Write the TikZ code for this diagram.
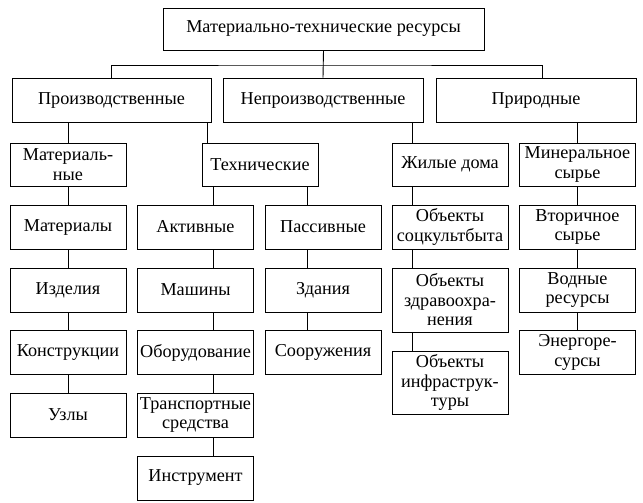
\documentclass[tikz,border=0pt]{standalone}
\usepackage{fontspec}
\setmainfont{Liberation Serif}
\usepackage{tikz}
\usepackage{xcolor}

\begin{document}
\begin{tikzpicture}[x=1pt,y=-1pt,line width=0.9pt,
  resbox/.style={draw,rectangle,align=center,inner sep=1pt,
    minimum width=116pt,minimum height=44pt,
    font=\fontsize{18.2}{19.5}\selectfont},
  widebox/.style={resbox,minimum width=200pt}]
\useasboundingbox (0,0) rectangle (643,503);
% top levels
\node [resbox,minimum width=321pt,minimum height=42pt] (res) at (323.5,29) {Материально-технические ресурсы};
\node [widebox,minimum width=199pt] (prod) at (111.5,100) {Производственные};
\node [widebox] (nonprod) at (323,100) {Непроизводственные};
\node [widebox] (nature) at (536,100) {Природные};
% third level
\node [resbox,minimum height=43pt] (mat) at (68,164.5) {Материаль-\\ные};
\node [resbox,minimum height=43pt] (tech) at (260,164.5) {Технические};
\node [resbox,minimum height=43pt] (houses) at (450,164.5) {Жилые дома};
\node [resbox,minimum height=43pt] (mineral) at (577.5,164.5) {Минеральное\\сырье};
% columns
\foreach \name/\x/\y/\txt in {materials/68/227/Материалы, items/68/290/Изделия,
    constr/68/352.5/Конструкции, units/68/415/Узлы,
    active/195.5/227/Активные, machines/195.5/290/Машины,
    equip/195.5/352.5/Оборудование, transp/195.5/415/{Транспортные\\средства},
    tools/195.5/478/Инструмент,
    passive/323/227/Пассивные, build/323/290/Здания, struct/323/352.5/Сооружения,
    social/450/227/{Объекты\\соцкультбыта},
    second/577.5/227/{Вторичное\\сырье}, water/577.5/290/{Водные\\ресурсы},
    energy/577.5/352.5/{Энергоре-\\сурсы}}
  {\node [resbox] (\name) at (\x,\y) {\txt};}
\node [resbox,minimum height=64pt] (health) at (450,300) {Объекты\\здравоохра-\\нения};
\node [resbox,minimum height=63pt] (infra) at (450,382.5) {Объекты\\инфраструк-\\туры};
% connector positions
\coordinate (hub) at (323,65);
\coordinate (natx) at (542,0);
\coordinate (techx) at (207,0);
\coordinate (actx) at (213,0);
\coordinate (pasx) at (307,0);
\coordinate (objx) at (412,0);
% connectors
\draw (res.south) -- (nonprod.north);
\draw (prod.north) |- (hub) -| (nature.north -| natx);
\draw (mat.north) -- (mat.north |- prod.south);
\draw (prod.south -| techx) -- (tech.north -| techx);
\draw (nonprod.south -| objx) -- (houses.north -| objx);
\draw (mineral.north) -- (mineral.north |- nature.south);
\foreach \a/\b in {mat/materials,materials/items,items/constr,constr/units,
    mineral/second,second/water,water/energy}
  {\draw (\a.south) -- (\b.north);}
\foreach \a/\b in {tech/active,active/machines,machines/equip,equip/transp,transp/tools}
  {\draw (\a.south -| actx) -- (\b.north -| actx);}
\foreach \a/\b in {tech/passive,passive/build,build/struct}
  {\draw (\a.south -| pasx) -- (\b.north -| pasx);}
\foreach \a/\b in {houses/social,social/health,health/infra}
  {\draw (\a.south -| objx) -- (\b.north -| objx);}
\end{tikzpicture}
\end{document}
